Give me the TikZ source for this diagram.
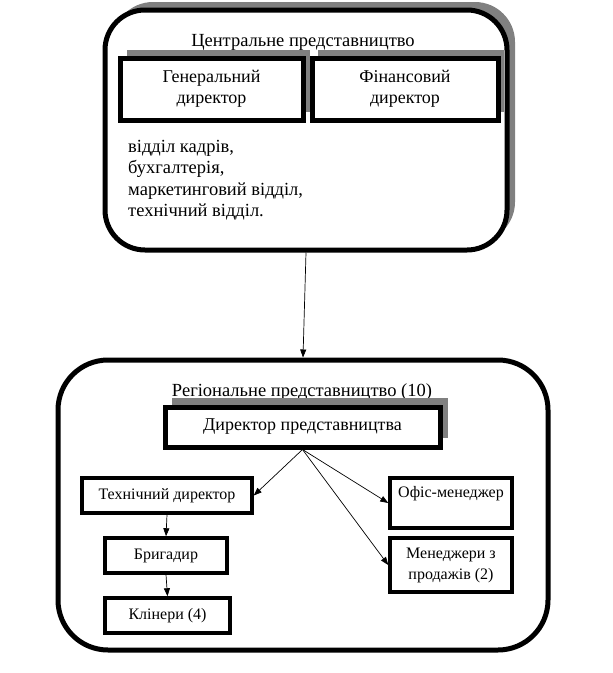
\documentclass[tikz,border=0pt]{standalone}
\usepackage{fontspec}
\setmainfont{Liberation Serif}
\usetikzlibrary{arrows.meta}
\definecolor{shadowgrey}{RGB}{128,128,128}
\tikzset{
  bigbox/.style={draw=black, line width=5pt, fill=white},
  thickbox/.style={draw=black, line width=5pt, fill=white, align=center, font=\fontsize{18}{21}\selectfont},
  smallbox/.style={draw=black, line width=3.5pt, fill=white, align=center, font=\fontsize{16}{21}\selectfont},
  conn/.style={line width=0.7pt, -{Triangle[length=8pt,width=6pt]}},
  title/.style={font=\fontsize{18.5}{21}\selectfont},
}
\begin{document}
\begin{tikzpicture}[x=1pt,y=-1pt]
\useasboundingbox (0,0) rectangle (613,673);
% top block
\fill[shadowgrey, rounded corners=40pt] (113,2) rectangle (515,242);
\node[bigbox, rounded corners=40pt, minimum width=402pt, minimum height=240pt] (central) at (306,130) {};
\node[title] (ctitle) at (303,42) {Центральне представництво};
\fill[shadowgrey] (127,50) rectangle (310,112);
\fill[shadowgrey] (318,50) rectangle (504,112);
\node[thickbox, minimum width=183pt, minimum height=62pt] (gen) at (211.5,89) {Генеральний\\директор};
\node[thickbox, minimum width=186pt, minimum height=62pt] (fin) at (405,89) {Фінансовий\\директор};
\node[title, anchor=north west, align=left, inner sep=0pt, font=\fontsize{18.5}{21.5}\selectfont] (depts) at (128,140) {відділ кадрів,\\бухгалтерія,\\маркетинговий відділ,\\технічний відділ.};
% bottom block
\node[bigbox, rounded corners=50pt, minimum width=490pt, minimum height=290pt] (regional) at (303,505) {};
\draw[conn] (central.south) -- (regional.north);
\node[title] (rtitle) at (302,392) {Регіональне представництво (10)};
\fill[shadowgrey] (172,398) rectangle (448,438);
\node[thickbox, minimum width=275pt, minimum height=40pt] (dir) at (302.5,427) {Директор представництва};
\node[smallbox, minimum width=170pt, minimum height=35pt] (tech) at (167,495.5) {Технічний директор};
\node[smallbox, minimum width=122pt, minimum height=35pt] (brig) at (166,555.5) {Бригадир};
\node[smallbox, minimum width=125pt, minimum height=35pt] (klin) at (167.5,615.5) {Клінери (4)};
\node[smallbox, minimum width=122pt, minimum height=50pt] (off) at (451,503) {};
\node[font=\fontsize{16}{21}\selectfont] (offtext) at (451,494) {Офіс-менеджер};
\node[smallbox, minimum width=122pt, minimum height=54pt] (sales) at (451,565) {Менеджери з\\продажів (2)};
\draw[conn] (dir.south) -- (tech.east);
\draw[conn] (dir.south) -- (off.west);
\draw[conn] (dir.south) -- (sales.west);
\draw[conn] (tech.south) -- (brig.north);
\draw[conn] (brig.south) -- (klin.north);
\end{tikzpicture}
\end{document}
